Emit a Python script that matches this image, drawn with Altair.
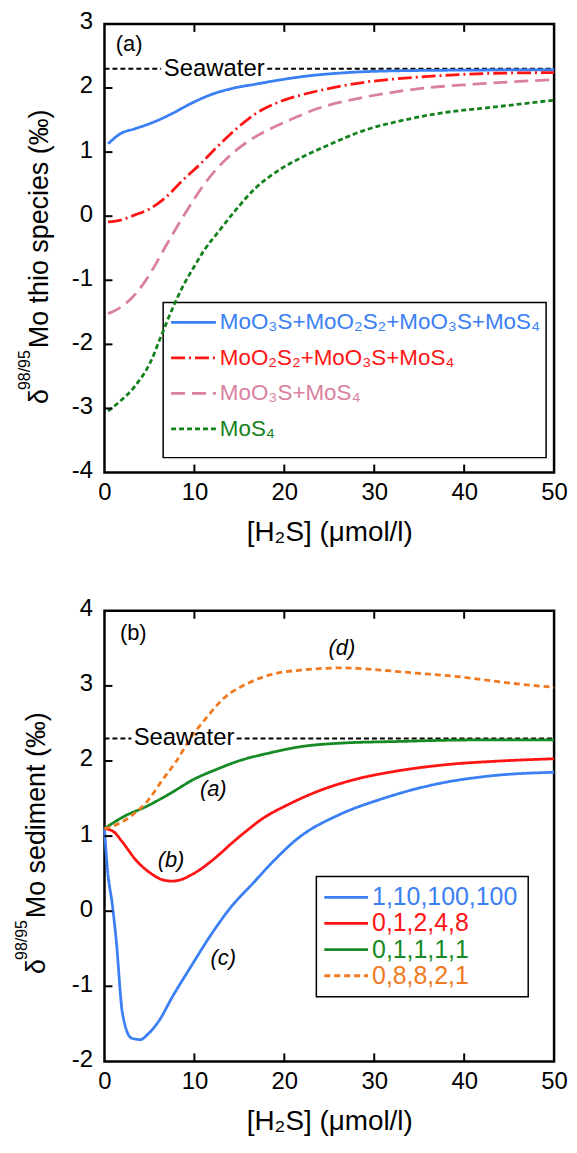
import altair as alt
import pandas as pd

FONT = "Liberation Sans"

# ---------------- data: panel (a) ----------------
a_names = ["MoO₃S+MoO₂S₂+MoO₃S+MoS₄", "MoO₂S₂+MoO₃S+MoS₄", "MoO₃S+MoS₄", "MoS₄"]
a_colors = ["#3b7ff5", "#ff1414", "#d9809f", "#13821d"]
a_dashes = [[1, 0], [14, 4, 2, 4], [14, 7], [5, 3]]

a_blue_x = [0.4, 1.8, 3.4, 5.5, 7.5, 9.5, 11.9, 14.4, 16.8, 18.4, 22.1, 26.9, 33, 41, 50]
a_blue_y = [1.13, 1.29, 1.365, 1.47, 1.60, 1.75, 1.90, 2.00, 2.06, 2.10, 2.18, 2.24, 2.27, 2.28, 2.285]
a_red_x = [0.4, 1.8, 3.4, 5.1, 6.7, 8.7, 10.7, 12.8, 14.8, 16.8, 19.2, 22.1, 24.9, 28.9, 33, 37, 43.1, 50]
a_red_y = [-0.09, -0.06, 0.02, 0.12, 0.28, 0.56, 0.82, 1.12, 1.38, 1.60, 1.77, 1.90, 1.99, 2.09, 2.15, 2.19, 2.23, 2.24]
a_pink_x = [0.4, 1.8, 3.0, 4.2, 5.4, 6.6, 8.0, 9.4, 11.1, 13.6, 16, 18.4, 20.9, 23.7, 26.9, 31, 35, 41.1, 50]
a_pink_y = [-1.52, -1.42, -1.28, -1.08, -0.82, -0.52, -0.18, 0.14, 0.50, 0.90, 1.17, 1.36, 1.52, 1.68, 1.80, 1.91, 1.99, 2.06, 2.13]
a_green_x = [0.4, 1.8, 3.4, 5.1, 6.3, 7.5, 8.7, 10, 11.1, 12.8, 14.8, 16.8, 19.2, 22.1, 24.9, 28.9, 33, 37, 43.1, 50]
a_green_y = [-3.04, -2.88, -2.65, -2.28, -1.87, -1.46, -1.10, -0.78, -0.53, -0.22, 0.13, 0.44, 0.70, 0.93, 1.11, 1.34, 1.49, 1.60, 1.70, 1.81]

# ---------------- data: panel (b) ----------------
b_names = ["1,10,100,100", "0,1,2,4,8", "0,1,1,1,1", "0,8,8,2,1"]
b_colors = ["#3b7ff5", "#ff1414", "#168a25", "#f07a22"]
b_dashes = [[1, 0], [1, 0], [1, 0], [6, 4]]

b_blue_x = [0, 0.3, 0.9, 1.3, 2.0, 3.0, 4.0, 4.8, 6.0, 7.6, 9.6, 11.7, 14.1, 16.5, 18.9, 21.4, 26.2, 30.7, 36.8, 42.8, 50]
b_blue_y = [1.10, 0.60, 0.06, -0.38, -1.36, -1.69, -1.71, -1.64, -1.47, -1.13, -0.74, -0.34, 0.06, 0.37, 0.68, 0.96, 1.29, 1.49, 1.69, 1.80, 1.85]
b_red_x = [0, 1.0, 2.0, 3.5, 5.2, 6.4, 7.5, 8.5, 9.6, 10.7, 11.7, 12.9, 14.1, 15.7, 17.3, 20.6, 23.8, 27.4, 32.7, 38.8, 44, 50]
b_red_y = [1.10, 1.06, 0.92, 0.68, 0.50, 0.42, 0.40, 0.42, 0.48, 0.56, 0.65, 0.77, 0.90, 1.06, 1.21, 1.43, 1.60, 1.74, 1.87, 1.96, 2.00, 2.03]
b_green_x = [0, 2.3, 4.4, 7.2, 10, 12.5, 14.9, 18.1, 21.8, 26.6, 32.7, 40.8, 50]
b_green_y = [1.10, 1.27, 1.38, 1.56, 1.76, 1.89, 2.00, 2.10, 2.19, 2.24, 2.26, 2.28, 2.28]
b_orange_x = [0, 1.5, 3.2, 4.8, 6.4, 8.0, 9.6, 11.3, 13.3, 15.7, 18.5, 21.8, 26.6, 30.7, 34.7, 38.8, 44.9, 50]
b_orange_y = [1.10, 1.16, 1.29, 1.47, 1.74, 2.00, 2.31, 2.57, 2.84, 3.02, 3.15, 3.21, 3.24, 3.21, 3.17, 3.13, 3.04, 2.98]

b_notes = ["(a)", "(b)", "(c)", "(d)"]
b_notes_x = [12.1, 7.4, 13.2, 26.4]
b_notes_y = [1.63, 0.68, -0.63, 3.50]

seawater = 2.3
x_ticks = [0, 10, 20, 30, 40, 50]
a_y_ticks = [-4, -3, -2, -1, 0, 1, 2, 3]
b_y_ticks = [-2, -1, 0, 1, 2, 3, 4]
x_title = "[H₂S] (μmol/l)"

ONE = pd.DataFrame({"k": [0]})


def series_df(names, xs, ys):
    rows = []
    for n, xx, yy in zip(names, xs, ys):
        for x, y in zip(xx, yy):
            rows.append({"s": n, "x": x, "y": y})
    return pd.DataFrame(rows)


def panel(names, colors, dashes, xs, ys, ydom, yticks, w, h,
          sea_gap, sea_text_x, sea_size, box, row_y0, row_dy, samp, text_x, leg_font,
          ytitle, yt_x, yt_y, plabel, plabel_xy, notes=None):
    xscale = alt.Scale(domain=[0, 50], nice=False, zero=False)
    yscale = alt.Scale(domain=ydom, nice=False, zero=False)
    xaxis = alt.Axis(values=x_ticks, labelFlush=False, ticks=False, domain=False, grid=False,
                     labelFontSize=24, labelPadding=8, labelColor="black",
                     labelExpr="'' + datum.value",
                     title=x_title, titleFontSize=28, titleFontWeight="normal",
                     titlePadding=14, titleColor="black")
    yaxis = alt.Axis(values=yticks, ticks=False, domain=False, grid=False,
                     labelFontSize=24, labelPadding=12, labelOffset=-2, labelColor="black",
                     labelExpr="'' + datum.value", title=None)
    X = lambda: alt.X("x:Q", scale=xscale, axis=xaxis, title=x_title)
    Y = lambda: alt.Y("y:Q", scale=yscale, axis=yaxis, title=None)

    df = series_df(names, xs, ys)
    lines = alt.Chart(df).mark_line(strokeWidth=2.8, interpolate="monotone").encode(
        x=X(), y=Y(),
        color=alt.Color("s:N", scale=alt.Scale(domain=names, range=colors), legend=None),
        strokeDash=alt.StrokeDash("s:N", scale=alt.Scale(domain=names, range=dashes), legend=None),
        detail="s:N",
    )

    sea = pd.DataFrame({"seg": [0, 0, 1, 1], "x": [0, sea_gap[0], sea_gap[1], 50],
                        "y": [seawater] * 4})
    sea_line = alt.Chart(sea).mark_line(color="black", strokeWidth=2, strokeDash=[5, 3]).encode(
        x=X(), y=Y(), detail="seg:N")
    sea_txt = alt.Chart(pd.DataFrame({"x": [sea_text_x], "y": [seawater], "t": ["Seawater"]})).mark_text(
        fontSize=sea_size, color="black", baseline="middle").encode(x=X(), y=Y(), text="t:N")

    inner = [v for v in yticks[1:-1]]
    lt = alt.Chart(pd.DataFrame({"y": inner})).mark_rule(color="black", strokeWidth=2).encode(
        y=Y(), x=alt.value(0), x2=alt.value(8))
    xt_in = pd.DataFrame({"x": x_ticks[1:-1]})
    tt = alt.Chart(xt_in).mark_rule(color="black", strokeWidth=2).encode(
        x=X(), y=alt.value(0), y2=alt.value(8))
    bt = alt.Chart(xt_in).mark_rule(color="black", strokeWidth=2).encode(
        x=X(), y=alt.value(h - 8), y2=alt.value(h))

    legbox = alt.Chart(ONE).mark_rect(fillOpacity=0, stroke="black", strokeWidth=1.5).encode(
        x=alt.value(box[0]), x2=alt.value(box[1]), y=alt.value(box[2]), y2=alt.value(box[3]))

    layers = [legbox, sea_line, lines, sea_txt, lt, tt, bt]
    for i, (n, c, d) in enumerate(zip(names, colors, dashes)):
        py = row_y0 + i * row_dy
        layers.append(alt.Chart(ONE).mark_rule(color=c, strokeDash=d, strokeWidth=2.8).encode(
            x=alt.value(samp[0]), x2=alt.value(samp[1]), y=alt.value(py)))
        layers.append(alt.Chart(ONE).mark_text(text=n, color=c, align="left", baseline="middle",
                                               fontSize=leg_font).encode(
            x=alt.value(text_x), y=alt.value(py)))

    # rotated y title: delta + superscript + rest
    layers.append(alt.Chart(ONE).mark_text(text=ytitle, angle=270, align="left", baseline="alphabetic",
                                           fontSize=27, color="black").encode(
        x=alt.value(yt_x), y=alt.value(yt_y)))
    layers.append(alt.Chart(ONE).mark_text(text="98/95", angle=270, align="right", baseline="alphabetic",
                                           fontSize=16, color="black").encode(
        x=alt.value(yt_x - 18), y=alt.value(yt_y + 2)))
    layers.append(alt.Chart(ONE).mark_text(text="δ", angle=270, align="right", baseline="alphabetic",
                                           fontSize=27, color="black").encode(
        x=alt.value(yt_x), y=alt.value(yt_y + 41)))

    layers.append(alt.Chart(pd.DataFrame({"x": [plabel_xy[0]], "y": [plabel_xy[1]], "t": [plabel]})).mark_text(
        fontSize=22, color="black").encode(x=X(), y=Y(), text="t:N"))
    if notes is not None:
        layers.append(alt.Chart(notes).mark_text(fontSize=22, fontStyle="italic", color="black").encode(
            x=X(), y=Y(), text="t:N"))

    return alt.layer(*layers).properties(width=w, height=h)


top = panel(a_names, a_colors, a_dashes,
            [a_blue_x, a_red_x, a_pink_x, a_green_x],
            [a_blue_y, a_red_y, a_pink_y, a_green_y],
            [-4, 3], a_y_ticks, 452, 451,
            sea_gap=(6.3, 18.1), sea_text_x=12.2, sea_size=24,
            box=(59, 444, 280, 436), row_y0=300, row_dy=35.7, samp=(67, 112), text_x=116, leg_font=22.5,
            ytitle="Mo thio species (‰)", yt_x=-57, yt_y=326,
            plabel="(a)", plabel_xy=(2.75, 2.69))

notes_df = pd.DataFrame({"x": b_notes_x, "y": b_notes_y, "t": b_notes})
bottom = panel(b_names, b_colors, b_dashes,
               [b_blue_x, b_red_x, b_green_x, b_orange_x],
               [b_blue_y, b_red_y, b_green_y, b_orange_y],
               [-2, 4], b_y_ticks, 452, 453,
               sea_gap=(3.0, 14.7), sea_text_x=8.85, sea_size=24,
               box=(213, 426, 267, 388), row_y0=288, row_dy=26.3, samp=(221, 265), text_x=269, leg_font=25,
               ytitle="Mo sediment (‰)", yt_x=-60, yt_y=309,
               plabel="(b)", plabel_xy=(3.2, 3.70), notes=notes_df)

chart = alt.vconcat(top, bottom, spacing=47).resolve_scale(
    color="independent", strokeDash="independent"
).properties(
    padding={"left": 4, "top": -3, "right": 0, "bottom": 0}
).configure(font=FONT).configure_view(stroke="black", strokeWidth=2.5)

chart.save("out.html", embed_options={"renderer": "svg", "actions": False})
